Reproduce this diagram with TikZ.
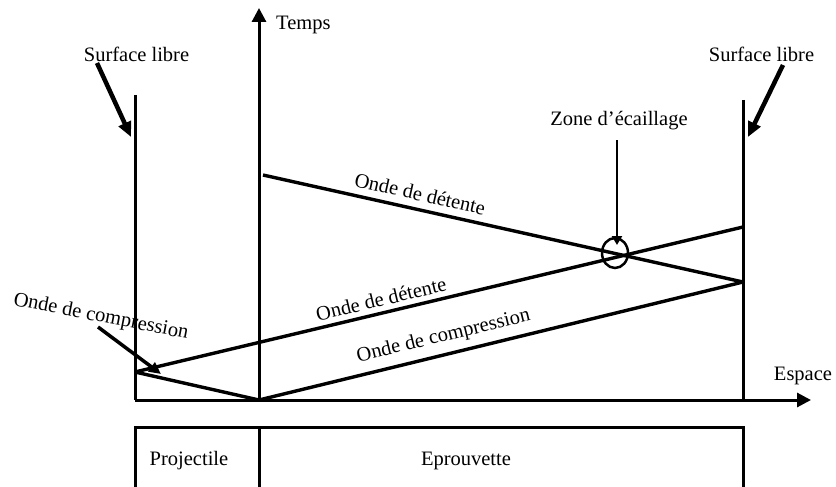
\documentclass[tikz,border=0pt]{standalone}
\usepackage{fontspec}
\setmainfont{Liberation Serif}
\usetikzlibrary{arrows.meta}

\begin{document}
\begin{tikzpicture}[
  x=1pt, y=-1pt,
  lbl/.style={font=\fontsize{20.5}{24}\selectfont, inner sep=0pt},
  trait/.style={line width=3pt},
  onde/.style={line width=3.4pt},
  axe/.style={line width=3pt, -{Triangle[length=14pt,width=14pt]}},
  fl/.style={line width=4.5pt, -{Triangle[length=15pt,width=13pt]}},
  fin/.style={line width=2.5pt, -{Triangle[length=9pt,width=10pt]}}
]
\useasboundingbox (0,0) rectangle (836,487);

% points of the x-t plane
\coordinate (impact) at (259,400);
\coordinate (gh) at (135,95);
\coordinate (gb) at (135,400);
\coordinate (dh) at (743,100);
\coordinate (db) at (743,400);
\coordinate (refg) at (135,372);
\coordinate (refd) at (743,282);
\coordinate (detA) at (263,175);
\coordinate (detB) at (743,227);
\coordinate (tsom) at (259,8);
\coordinate (xfin) at (811,400);

% free surfaces and axes
\draw[trait] (gh) -- (gb);
\draw[trait] (dh) -- (db);
\draw[axe] (impact) -- (tsom);
\draw[axe] (gb) -- (xfin);

% waves
\draw[onde] (refg) -- (impact);
\draw[onde] (impact) -- node[lbl, sloped, above=7pt, pos=0.39] (lcomp) {Onde de compression} (refd);
\draw[onde] (refg) -- node[lbl, sloped, above=5pt, pos=0.41] (ldet2) {Onde de d\'etente} (detB);
\draw[onde] (detA) -- node[lbl, sloped, above=7pt, pos=0.32] (ldet1) {Onde de d\'etente} (refd);

% spall zone
\draw[line width=2.5pt] (615,253) ellipse [x radius=13pt, y radius=15pt];
\coordinate (zone) at (617,245);

% labels
\node[lbl, anchor=base] (sg) at (136.5,62) {Surface libre};
\node[lbl, anchor=base] (sd) at (761.5,62) {Surface libre};
\node[lbl, anchor=base] (za) at (619,125) {Zone d'\'ecaillage};
\node[lbl, anchor=base west] (temps) at (276,30) {Temps};
\node[lbl, anchor=base] (esp) at (803,380) {Espace};
\node[lbl, anchor=base, rotate=-11] (lcg) at (100,322) {Onde de compression};

\draw[fl] (97,63) -- (131,137);
\draw[fl] (783,65) -- (748,137);
\draw[fin] (617,140) -- (zone);
\draw[line width=3.5pt, -{Triangle[length=12pt,width=11pt]}] (98,327) -- (161,374);

% bottom bar
\coordinate (bg) at (135,427);
\coordinate (bm) at (259,427);
\coordinate (bd) at (743,427);
\draw[trait] (135,487) -- (bg) -- (bd) -- (743,487);
\draw[trait] (bm) -- (259,487);
\node[lbl, anchor=base] (proj) at (189,465) {Projectile};
\node[lbl, anchor=base] (epr) at (466,465) {Eprouvette};
\end{tikzpicture}
\end{document}
